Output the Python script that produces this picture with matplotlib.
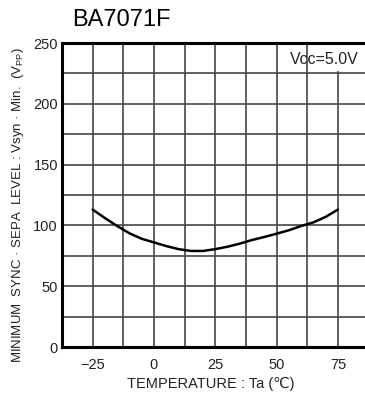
import numpy as np
import matplotlib
matplotlib.use("Agg")
import matplotlib.pyplot as plt
from matplotlib.patches import Rectangle
from matplotlib.ticker import MultipleLocator, NullFormatter

plt.rcParams['font.family'] = ['Liberation Sans', 'DejaVu Sans']

# Data
temps = [-25, -20, -15, -10, -5, 0, 5, 10, 15, 20, 25, 30, 35, 40, 45, 50, 55, 60, 65, 70, 75]
vsyn = [113, 106, 99.5, 93.5, 89, 86, 83, 80.5, 79, 79, 80.5, 82.5, 85, 88, 90.5, 93.2, 96, 99.5, 102.5, 107, 113]

x_ticks = [-25, 0, 25, 50, 75]
x_labels = ["\u221225", "0", "25", "50", "75"]
y_ticks = [0, 50, 100, 150, 200, 250]

fig = plt.figure(figsize=(3.65, 3.96), dpi=100)
ax = fig.add_axes([0.170, 0.1237, 0.833, 0.7677])

ax.plot(temps, vsyn, color="black", lw=1.8, solid_capstyle="round", zorder=3)

ax.set_xlim(-37.5, 86.5)
ax.set_ylim(0, 250)
ax.set_xticks(x_ticks, labels=x_labels)
ax.set_yticks(y_ticks)
ax.xaxis.set_minor_locator(MultipleLocator(12.5))
ax.yaxis.set_minor_locator(MultipleLocator(25))
ax.xaxis.set_minor_formatter(NullFormatter())
ax.yaxis.set_minor_formatter(NullFormatter())
ax.set_axisbelow(True)
ax.grid(True, which="both", color="#474747", lw=1.2)
ax.tick_params(which="both", length=0, labelsize=10.5, colors="#222222")
ax.tick_params(axis="x", pad=8)
ax.tick_params(axis="y", pad=3)

for s in ["left", "bottom", "top"]:
    ax.spines[s].set_linewidth(2.2)
ax.spines["right"].set_visible(False)

# white patch behind the supply voltage note
ax.add_patch(Rectangle((0.8505, 0.907), 0.16, 0.093, transform=ax.transAxes,
                       facecolor="white", edgecolor="none", zorder=1))
ax.text(0.974, 0.946, "Vcc=5.0V", transform=ax.transAxes, ha="right", va="center",
        fontsize=11.5, color="#222222", zorder=2)

fig.text(0.197, 0.949, "BA7071F", fontsize=17, ha="left", va="center")
fig.text(0.578, 0.031, "TEMPERATURE : Ta (\u2103)", fontsize=10.5, ha="center", va="center",
         color="#222222")
fig.text(0.05, 0.482, "MINIMUM  SYNC \u00b7 SEPA  LEVEL : Vsyn \u00b7 Min.  (V$_{\\mathregular{PP}}$)",
         rotation=90, fontsize=9.5, ha="center", va="center", color="#222222")

fig.savefig("out.png", dpi=100)
